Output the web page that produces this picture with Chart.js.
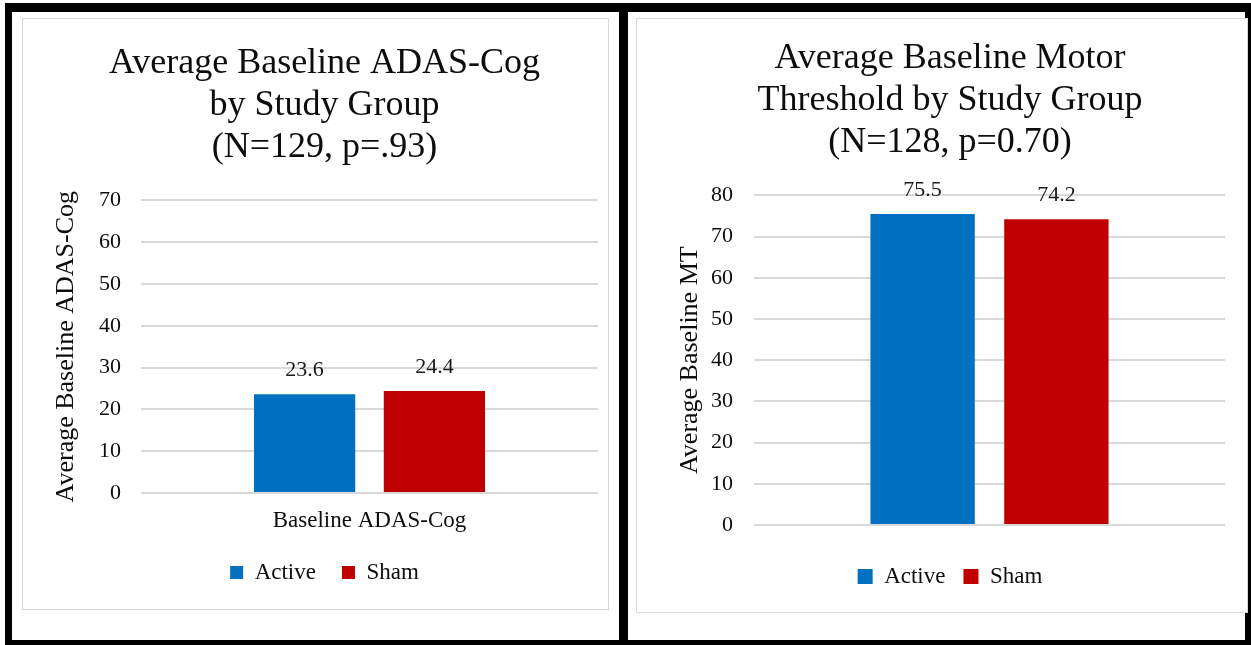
<!DOCTYPE html>
<html>
<head>
<meta charset="utf-8">
<script src="https://cdn.jsdelivr.net/npm/chart.js@4.4.1/dist/chart.umd.min.js"></script>
<style>
  html, body { margin: 0; padding: 0; background: #fff; width: 1251px; height: 645px; overflow: hidden; }
  .frame { position: absolute; left: 5px; top: 3px; width: 1246px; height: 642px; box-sizing: border-box;
           border-style: solid; border-color: #000; border-width: 9px 6px 5px 7px; }
  .divider { position: absolute; left: 619px; top: 3px; width: 9px; height: 642px; background: #000; }
  .panel { position: absolute; box-sizing: border-box; border: 1px solid #d9d9d9; background: #fff; }
  .panel canvas { position: absolute; left: 0; top: 0; }
</style>
</head>
<body>
<div class="frame"></div>
<div class="divider"></div>
<div class="panel" id="p1" style="left:22px; top:18px; width:587px; height:592px;"><canvas id="c1"></canvas></div>
<div class="panel" id="p2" style="left:636px; top:18px; width:612px; height:595px;"><canvas id="c2"></canvas></div>
<script>
// Series labels and colours
const groups = ['Active', 'Sham'];
const groupColors = ['#0070C0', '#C00000'];

// ADAS-Cog chart
const adasCategories = ['Baseline ADAS-Cog'];
const adasActive = [23.6];
const adasSham = [24.4];
const adasTitle = ['Average Baseline ADAS-Cog', 'by Study Group', '(N=129, p=.93)'];
const adasAxisTitle = 'Average Baseline ADAS-Cog';
const adasMax = 70;
const adasStep = 10;

// Motor threshold chart
const mtCategories = [''];
const mtActive = [75.5];
const mtSham = [74.2];
const mtTitle = ['Average Baseline Motor', 'Threshold by Study Group', '(N=128, p=0.70)'];
const mtAxisTitle = 'Average Baseline MT';
const mtMax = 80;
const mtStep = 10;

const SERIF = '"Liberation Serif", "Times New Roman", serif';
const TEXT = '#0d0d0d';

// Value labels above each bar
const valueLabels = {
  id: 'valueLabels',
  afterDatasetsDraw(chart) {
    const ctx = chart.ctx;
    ctx.save();
    ctx.font = '22px ' + SERIF;
    ctx.fillStyle = '#1a1a1a';
    ctx.textAlign = 'center';
    ctx.textBaseline = 'middle';
    chart.data.datasets.forEach((ds, i) => {
      chart.getDatasetMeta(i).data.forEach((bar, j) => {
        ctx.fillText(ds.data[j].toFixed(1), bar.x, bar.y - 24);
      });
    });
    ctx.restore();
  }
};

function makeChart(id, w, h, cfg) {
  const cv = document.getElementById(id);
  cv.width = w; cv.height = h;
  cv.style.width = w + 'px'; cv.style.height = h + 'px';
  return new Chart(cv, {
    type: 'bar',
    data: {
      labels: cfg.categories,
      datasets: [
        { label: groups[0], data: cfg.active, backgroundColor: groupColors[0], borderWidth: 0,
          categoryPercentage: 0.568, barPercentage: 0.78 },
        { label: groups[1], data: cfg.sham, backgroundColor: groupColors[1], borderWidth: 0,
          categoryPercentage: 0.568, barPercentage: 0.78 }
      ]
    },
    options: {
      responsive: false,
      animation: false,
      devicePixelRatio: 1,
      layout: { padding: cfg.padding },
      plugins: {
        title: {
          display: true,
          text: cfg.title,
          color: TEXT,
          font: { family: SERIF, size: 36, weight: 'normal', lineHeight: 1.17 },
          padding: cfg.titlePadding
        },
        legend: {
          position: 'bottom',
          labels: {
            color: TEXT,
            font: { family: SERIF, size: 23 },
            boxWidth: cfg.box, boxHeight: cfg.box,
            padding: cfg.legendPad
          }
        },
        tooltip: { enabled: false }
      },
      scales: {
        x: {
          grid: { display: false, drawTicks: false },
          border: { display: false },
          ticks: { display: cfg.showCategory, color: TEXT, font: { family: SERIF, size: 23 }, padding: 14 },
          afterFit(scale) { scale.height = cfg.xHeight; }
        },
        y: {
          min: 0, max: cfg.max,
          grid: { color: '#d9d9d9', lineWidth: 2, drawTicks: false },
          border: { display: false },
          ticks: { stepSize: cfg.step, color: TEXT, font: { family: SERIF, size: 22 }, padding: cfg.tickPad },
          title: {
            display: true, text: cfg.axisTitle, color: TEXT,
            font: { family: SERIF, size: 26, lineHeight: 1.2 },
            padding: { top: 0, bottom: 0 }
          },
          afterFit(scale) { scale.width = cfg.yWidth; }
        }
      }
    },
    plugins: [valueLabels]
  });
}

makeChart('c1', 585, 590, {
  categories: adasCategories, active: adasActive, sham: adasSham,
  title: adasTitle, axisTitle: adasAxisTitle, max: adasMax, step: adasStep,
  padding: { left: 28, right: 10, top: 0, bottom: 15 },
  titlePadding: { top: 23, bottom: 32 },
  box: 13, legendPad: 26, showCategory: true, xHeight: 42, tickPad: 20, yWidth: 90
});

makeChart('c2', 610, 593, {
  categories: mtCategories, active: mtActive, sham: mtSham,
  title: mtTitle, axisTitle: mtAxisTitle, max: mtMax, step: mtStep,
  padding: { left: 38, right: 22, top: 0, bottom: 14 },
  titlePadding: { top: 18, bottom: 32 },
  box: 15, legendPad: 18, showCategory: false, xHeight: 22, tickPad: 21, yWidth: 79
});
</script>
</body>
</html>
